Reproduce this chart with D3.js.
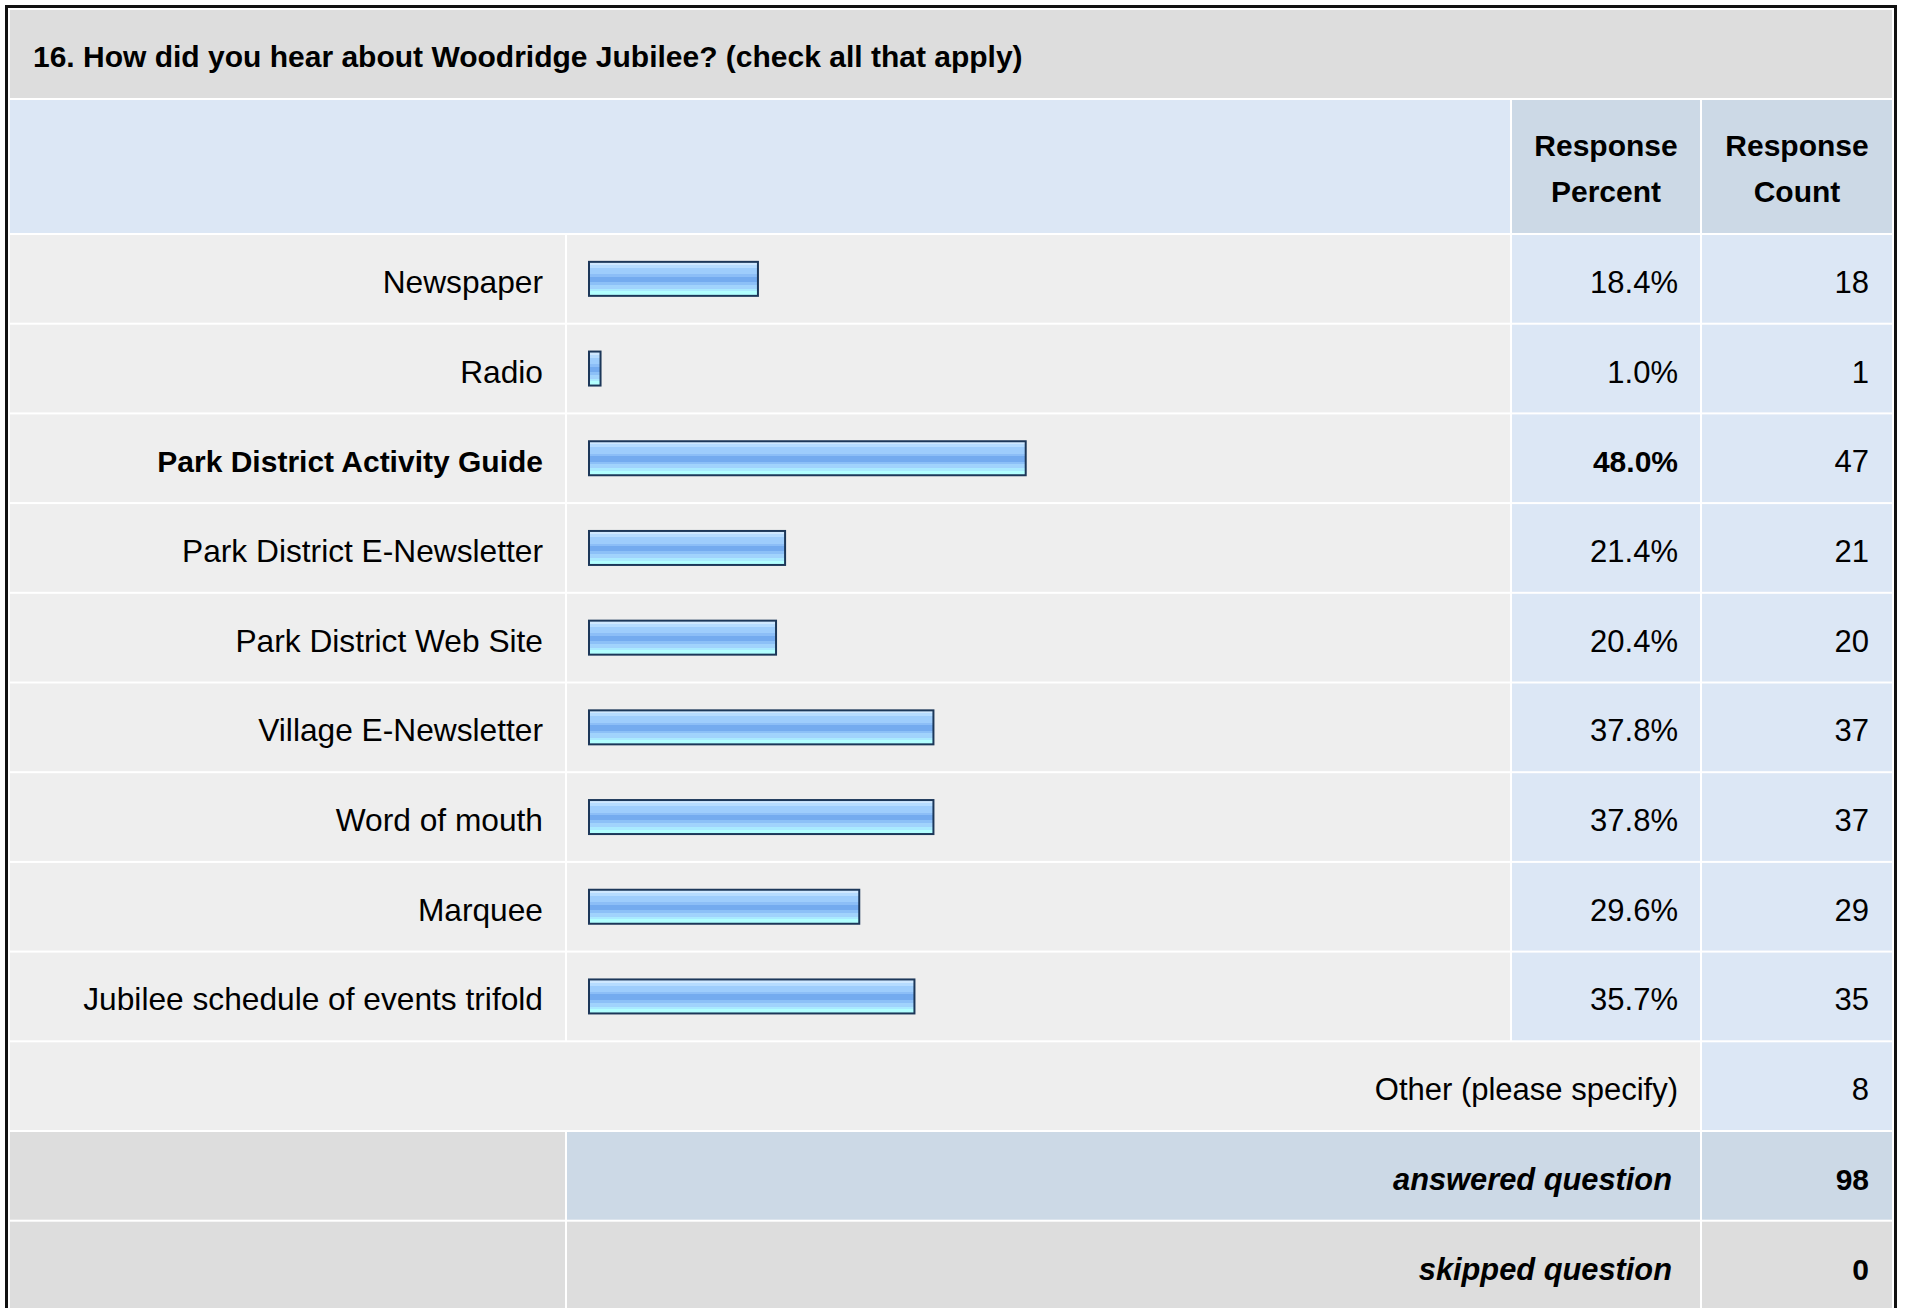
<!DOCTYPE html>
<html>
  <head>
    <meta charset="UTF-8">
    <title>16. How did you hear about Woodridge Jubilee?</title>
  </head>
  <style type="text/css">
    body {
      margin: 0;
      background: #fff;
    }

    text {
      font-family: "Liberation Sans", Arial, Helvetica, sans-serif;
      font-size: 31px;
      fill: #000;
    }

    .label {
      font-size: 31.7px;
    }

    .bold {
      font-weight: bold;
      font-size: 30px;
    }

    .bolditalic {
      font-weight: bold;
      font-style: italic;
      font-size: 30.8px;
    }
  </style>
  <body>
    <svg width="1907" height="1308"></svg>
  </body>
  <script src="https://d3js.org/d3.v7.min.js"></script>
  <script type="text/javascript">
    const title = '16. How did you hear about Woodridge Jubilee? (check all that apply)';
    const answers = ['Newspaper', 'Radio', 'Park District Activity Guide', 'Park District E-Newsletter',
      'Park District Web Site', 'Village E-Newsletter', 'Word of mouth', 'Marquee',
      'Jubilee schedule of events trifold'];
    const percents = [18.4, 1.0, 48.0, 21.4, 20.4, 37.8, 37.8, 29.6, 35.7];
    const counts = [18, 1, 47, 21, 20, 37, 37, 29, 35];
    const otherLabel = 'Other (please specify)';
    const otherCount = 8;
    const summaryLabels = ['answered question', 'skipped question'];
    const summaryCounts = [98, 0];

    let svg = d3.select('svg');

    // column edges (table cells, 2px white spacing)
    const col = {
      label: [10, 565],
      bar: [567, 1510],
      pct: [1512, 1700],
      cnt: [1702, 1892]
    };

    // rows after the header
    const row = d3.scaleLinear().domain([0, 1]).range([235, 324.7]);
    const rowH = 87.7;
    const x = d3.scaleLinear().domain([0, 100]).range([0, 904.6]);
    const maxPct = d3.max(percents);

    const defs = svg.append('defs');
    const grad = defs.append('linearGradient')
      .attr('id', 'barGrad')
      .attr('x1', 0).attr('y1', 0).attr('x2', 0).attr('y2', 1);
    const stops = [
      [0, '#cfe8ff'], [0.09, '#cfe8ff'], [0.09, '#b6dcff'], [0.18, '#b6dcff'],
      [0.18, '#9ecdfc'], [0.37, '#9ecdfc'], [0.37, '#8cbef7'], [0.44, '#8cbef7'],
      [0.44, '#74abef'], [0.6, '#74abef'], [0.6, '#8cc0f7'], [0.68, '#8cc0f7'],
      [0.68, '#a1d3fc'], [0.8, '#a1d3fc'], [0.8, '#aaeaff'], [0.87, '#aaeaff'],
      [0.87, '#b2ffff'], [1, '#b2ffff']
    ];
    grad.selectAll('stop').data(stops).enter().append('stop')
      .attr('offset', d => d[0])
      .attr('stop-color', d => d[1]);

    const cell = (x0, x1, y0, h, fill) => {
      svg.append('rect')
        .attr('x', x0).attr('y', y0)
        .attr('width', x1 - x0).attr('height', h)
        .attr('fill', fill);
    };

    // outer frame
    svg.append('rect')
      .attr('x', 6.5).attr('y', 6.5)
      .attr('width', 1889).attr('height', 1320)
      .attr('fill', 'none')
      .attr('stroke', '#111')
      .attr('stroke-width', 3);

    // title
    cell(col.label[0], col.cnt[1], 10, 88, '#dddddd');
    svg.append('text')
      .attr('class', 'bold')
      .attr('x', 33).attr('y', 67)
      .text(title);

    // header
    cell(col.label[0], col.bar[1], 100, 133, '#dce7f5');
    cell(col.pct[0], col.pct[1], 100, 133, '#ccd9e6');
    cell(col.cnt[0], col.cnt[1], 100, 133, '#ccd9e6');
    const headers = [['Response', 'Percent'], ['Response', 'Count']];
    const headerX = [(col.pct[0] + col.pct[1]) / 2, (col.cnt[0] + col.cnt[1]) / 2];
    headers.forEach((lines, i) => {
      svg.append('text')
        .attr('class', 'bold')
        .attr('text-anchor', 'middle')
        .selectAll('tspan').data(lines).enter().append('tspan')
        .attr('x', headerX[i])
        .attr('y', (d, j) => 156 + j * 46)
        .text(d => d);
    });

    // answer rows
    const rows = svg.selectAll('g.answer')
      .data(answers.map((a, i) => ({ label: a, pct: percents[i], count: counts[i], i: i })))
      .enter().append('g')
      .attr('class', 'answer')
      .attr('transform', d => 'translate(0,' + row(d.i) + ')');

    [['label', '#eeeeee'], ['bar', '#eeeeee'], ['pct', '#dce7f5'], ['cnt', '#dce7f5']].forEach(c => {
      rows.append('rect')
        .attr('x', col[c[0]][0])
        .attr('width', col[c[0]][1] - col[c[0]][0])
        .attr('height', rowH)
        .attr('fill', c[1]);
    });

    rows.append('text')
      .attr('class', d => d.pct === maxPct ? 'bold' : 'label')
      .attr('text-anchor', 'end')
      .attr('x', 543)
      .attr('y', rowH / 2 + 14)
      .text(d => d.label);

    rows.append('rect')
      .attr('x', 589)
      .attr('y', rowH / 2 - 17)
      .attr('width', d => x(d.pct) + 2.5)
      .attr('height', 34)
      .attr('fill', 'url(#barGrad)')
      .attr('stroke', '#1c3759')
      .attr('stroke-width', 2);

    rows.append('text')
      .attr('class', d => d.pct === maxPct ? 'bold' : null)
      .attr('text-anchor', 'end')
      .attr('x', 1678)
      .attr('y', rowH / 2 + 14)
      .text(d => d.pct.toFixed(1) + '%');

    rows.append('text')
      .attr('text-anchor', 'end')
      .attr('x', 1869)
      .attr('y', rowH / 2 + 14)
      .text(d => d.count);

    // other row
    const yo = row(answers.length);
    cell(col.label[0], col.pct[1], yo, rowH, '#eeeeee');
    cell(col.cnt[0], col.cnt[1], yo, rowH, '#dce7f5');
    svg.append('text')
      .attr('text-anchor', 'end')
      .attr('x', 1678).attr('y', yo + rowH / 2 + 14)
      .text(otherLabel);
    svg.append('text')
      .attr('text-anchor', 'end')
      .attr('x', 1869).attr('y', yo + rowH / 2 + 14)
      .text(otherCount);

    // answered / skipped
    const summaryFill = [['#dddddd', '#ccd9e6', '#ccd9e6'], ['#dddddd', '#dddddd', '#dddddd']];
    summaryLabels.forEach((s, k) => {
      const ys = row(answers.length + 1 + k);
      cell(col.label[0], col.label[1], ys, rowH, summaryFill[k][0]);
      cell(col.bar[0], col.pct[1], ys, rowH, summaryFill[k][1]);
      cell(col.cnt[0], col.cnt[1], ys, rowH, summaryFill[k][2]);
      svg.append('text')
        .attr('class', 'bolditalic')
        .attr('text-anchor', 'end')
        .attr('x', 1672).attr('y', ys + rowH / 2 + 14)
        .text(s);
      svg.append('text')
        .attr('class', 'bold')
        .attr('text-anchor', 'end')
        .attr('x', 1869).attr('y', ys + rowH / 2 + 14)
        .text(summaryCounts[k]);
    });
  </script>
</html>
